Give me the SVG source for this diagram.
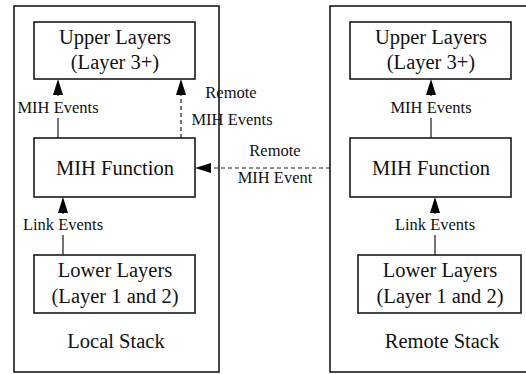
<svg xmlns="http://www.w3.org/2000/svg" width="526" height="374" viewBox="0 0 526 374">
<style>
.box{fill:#fff;stroke:#1a1a1a;stroke-width:1.6}
.frame{fill:none;stroke:#1a1a1a;stroke-width:1.6}
.t{font-family:"Liberation Serif","Times New Roman",serif;font-size:20.5px;fill:#111;text-anchor:middle}
.l{font-family:"Liberation Serif","Times New Roman",serif;font-size:16.5px;fill:#111;text-anchor:middle}
.c{fill:none;stroke:#1a1a1a;stroke-width:1.2}
.d{stroke-dasharray:4 3}
</style>
<defs>
<marker id="ah" viewBox="0 0 16 10" markerUnits="userSpaceOnUse" markerWidth="16" markerHeight="10" refX="0" refY="5" orient="auto">
<path d="M0,0 L16,5 L0,10 z" fill="#000"/>
</marker>
</defs>
<rect width="526" height="374" fill="#fff"/>
<g id="local-stack">
<rect class="frame" x="14" y="6" width="205" height="366"/>
<text class="t" x="116" y="348">Local Stack</text>
</g>
<g id="remote-stack">
<rect class="frame" x="330" y="6" width="210" height="366"/>
<text class="t" x="442" y="348">Remote Stack</text>
</g>
<g id="local-upper">
<rect class="box" x="34" y="22" width="161" height="57"/>
<text class="t" x="115" y="44">Upper Layers</text>
<text class="t" x="115" y="69">(Layer 3+)</text>
</g>
<g id="local-mih">
<rect class="box" x="34" y="138" width="161" height="59"/>
<text class="t" x="115" y="175">MIH Function</text>
</g>
<g id="local-lower">
<rect class="box" x="34" y="255" width="161" height="58"/>
<text class="t" x="115" y="277">Lower Layers</text>
<text class="t" x="115" y="303">(Layer 1 and 2)</text>
</g>
<g id="remote-upper">
<rect class="box" x="350" y="22" width="161" height="57"/>
<text class="t" x="431" y="44">Upper Layers</text>
<text class="t" x="431" y="69">(Layer 3+)</text>
</g>
<g id="remote-mih">
<rect class="box" x="350" y="138" width="161" height="59"/>
<text class="t" x="431" y="175">MIH Function</text>
</g>
<g id="remote-lower">
<rect class="box" x="358" y="255" width="163" height="58"/>
<text class="t" x="440" y="277">Lower Layers</text>
<text class="t" x="440" y="303">(Layer 1 and 2)</text>
</g>
<g id="connectors">
<path class="c" d="M58,138 V118 M58,96 V95" marker-end="url(#ah)"/>
<text class="l" x="58" y="113">MIH Events</text>
<path class="c" d="M63,255 V235 M63,214 V213" marker-end="url(#ah)"/>
<text class="l" x="63" y="230">Link Events</text>
<path class="c d" d="M181,138 V95" marker-end="url(#ah)"/>
<text class="l" x="231" y="98">Remote</text>
<text class="l" x="232" y="125">MIH Events</text>
<path class="c d" d="M330,168 H211" marker-end="url(#ah)"/>
<text class="l" x="275" y="156">Remote</text>
<text class="l" x="275" y="183">MIH Event</text>
<path class="c" d="M431,138 V118 M431,96 V95" marker-end="url(#ah)"/>
<text class="l" x="431" y="113">MIH Events</text>
<path class="c" d="M435,255 V235 M435,214 V213" marker-end="url(#ah)"/>
<text class="l" x="435" y="230">Link Events</text>
</g>
</svg>
